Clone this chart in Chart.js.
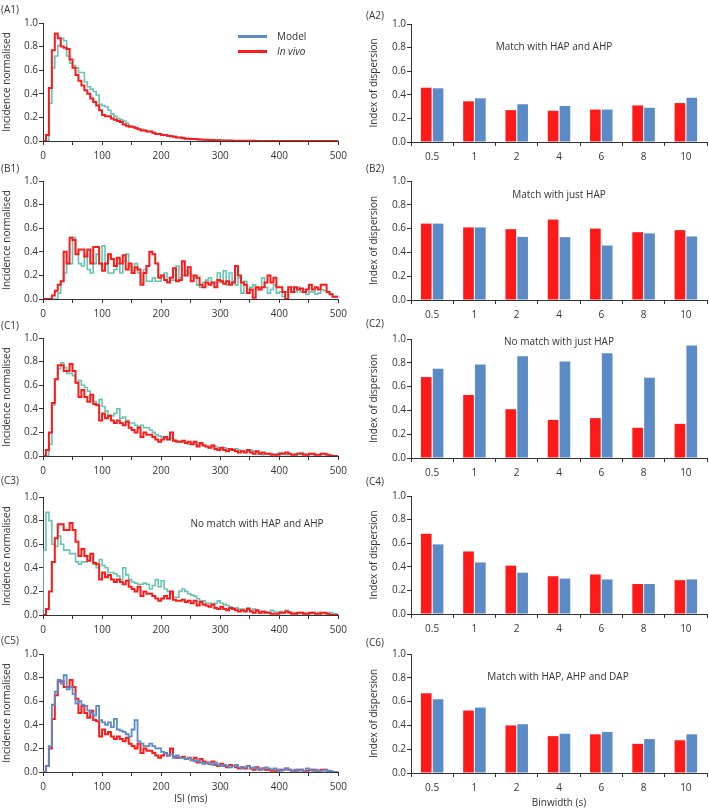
<!DOCTYPE html>
<html><head><meta charset="utf-8">
<script src="https://cdn.jsdelivr.net/npm/chart.js@4.4.1/dist/chart.umd.min.js"></script>
<style>
body{margin:0;background:#fff;width:709px;height:810px;position:relative;overflow:hidden;font-family:'Open Sans',sans-serif;color:#333}
canvas{position:absolute}
.lbl{position:absolute;font-size:10px;line-height:12px;white-space:nowrap;color:#333}
.ttl{position:absolute;font-size:10px;line-height:12px;white-space:nowrap;transform:translate(-50%,-50%);color:#333}
.leg{position:absolute;height:3px;width:29px}
</style></head><body>
<script>
// ---------------- DATA ----------------
const BIN_MS = 5;                       // ISI histogram bin width (ms)
const isiTickLabels = [0, 100, 200, 300, 400, 500];
const binwidths = ['0.5', '1', '2', '4', '6', '8', '10'];

// (A1)
const a1InVivo = [
 0,0,0.05,0.45,0.77,0.91,0.87,0.80,0.79,0.78,
 0.69,0.62,0.56,0.51,0.47,0.43,0.40,0.36,0.33,0.30,
 0.26,0.22,0.21,0.21,0.19,0.18,0.17,0.16,0.14,0.13,
 0.12,0.12,0.11,0.10,0.09,0.09,0.08,0.08,0.07,0.06,
 0.06,0.05,0.05,0.045,0.04,0.035,0.03,0.03,0.025,0.02,
 0.02,0.018,0.016,0.014,0.012,0.01,0.01,0.009,0.008,0.007,
 0.006,0.005,0.005,0.004,0.004,0.003,0.003,0.003,0.002,0.002,
 0.002,0.002,0.002,0.001,0.001,0.001,0.001,0.001,0.001,0,
 0,0,0,0,0,0,0,0,0,0,
 0,0,0,0,0,0,0,0,0,0];
const a1Model = [
 0,0,0,0.32,0.62,0.72,0.81,0.87,0.85,0.72,
 0.66,0.64,0.62,0.58,0.58,0.50,0.46,0.44,0.42,0.39,
 0.31,0.30,0.29,0.26,0.23,0.21,0.19,0.18,0.17,0.15,
 0.13,0.12,0.11,0.10,0.10,0.09,0.08,0.08,0.07,0.06,
 0.06,0.05,0.05,0.04,0.04,0.04,0.03,0.03,0.02,0.02,
 0.02,0.015,0.015,0.01,0.01,0.01,0.008,0.007,0.006,0.005,
 0.005,0.004,0.004,0.003,0.003,0.002,0.002,0.002,0.001,0.001,
 0.001,0.001,0.001,0,0,0,0,0,0,0,
 0,0,0,0,0,0,0,0,0,0,
 0,0,0,0,0,0,0,0,0,0];

// (B1)
const b1InVivo = [
 0,0,0,0,0.03,0.07,0.12,0.15,0.40,0.30,
 0.52,0.50,0.38,0.42,0.42,0.36,0.42,0.30,0.44,0.44,
 0.30,0.24,0.30,0.38,0.34,0.28,0.35,0.30,0.37,0.25,
 0.30,0.22,0.27,0.25,0.12,0.22,0.28,0.40,0.38,0.30,
 0.18,0.20,0.16,0.14,0.18,0.26,0.15,0.16,0.32,0.20,
 0.27,0.15,0.20,0.18,0.12,0.10,0.14,0.12,0.14,0.10,
 0.16,0.15,0.13,0.15,0.12,0.14,0.28,0.20,0.14,0.12,
 0.05,0.08,0.01,0.10,0.08,0.10,0.14,0.20,0.14,0.18,
 0.10,0.10,0.06,0.00,0.10,0.06,0.10,0.08,0.09,0.06,
 0.08,0.12,0.08,0.10,0.08,0.12,0.12,0.06,0.04,0.02];
const b1Model = [
 0,0,0,0,0,0,0.05,0.15,0.22,0.30,
 0.30,0.52,0.38,0.30,0.28,0.38,0.25,0.22,0.30,0.38,
 0.30,0.45,0.30,0.22,0.22,0.25,0.30,0.22,0.32,0.38,
 0.28,0.24,0.30,0.22,0.14,0.25,0.15,0.15,0.18,0.15,
 0.15,0.20,0.22,0.18,0.16,0.16,0.28,0.18,0.20,0.24,
 0.22,0.20,0.18,0.12,0.10,0.14,0.16,0.18,0.14,0.14,
 0.22,0.14,0.24,0.12,0.22,0.15,0.12,0.18,0.05,0.15,
 0.08,0.10,0.12,0.08,0.10,0.18,0.10,0.05,0.08,0.12,
 0.05,0.06,0.02,0.06,0.08,0.10,0.06,0.10,0.06,0.08,
 0.04,0.06,0.06,0.04,0.05,0.08,0.07,0.06,0.04,0.02];

// (C1), (C3), (C5): same in vivo recording
const cInVivo = [
 0,0,0.05,0.20,0.45,0.65,0.77,0.77,0.72,0.72,
 0.78,0.72,0.62,0.50,0.56,0.50,0.46,0.52,0.44,0.43,
 0.30,0.36,0.32,0.34,0.30,0.28,0.30,0.28,0.26,0.29,
 0.24,0.22,0.20,0.24,0.16,0.20,0.18,0.18,0.16,0.14,
 0.12,0.14,0.16,0.14,0.20,0.13,0.12,0.12,0.13,0.11,
 0.12,0.10,0.12,0.08,0.11,0.09,0.08,0.07,0.09,0.06,
 0.05,0.07,0.05,0.04,0.06,0.05,0.04,0.03,0.04,0.03,
 0.05,0.03,0.02,0.04,0.02,0.03,0.02,0.02,0.01,0.01,
 0.01,0.02,0.02,0.03,0.02,0.01,0.01,0.02,0.02,0.01,
 0.01,0.02,0.02,0.01,0.01,0.02,0.02,0.01,0,0];
const c1Model = [
 0,0,0,0.10,0.43,0.65,0.74,0.79,0.75,0.70,
 0.70,0.68,0.62,0.64,0.60,0.58,0.55,0.50,0.46,0.44,
 0.48,0.42,0.38,0.35,0.34,0.36,0.40,0.32,0.33,0.30,
 0.28,0.28,0.26,0.25,0.26,0.24,0.24,0.22,0.20,0.18,
 0.17,0.16,0.15,0.14,0.15,0.14,0.13,0.12,0.12,0.11,
 0.10,0.11,0.10,0.09,0.10,0.09,0.08,0.07,0.09,0.08,
 0.07,0.06,0.07,0.06,0.05,0.05,0.06,0.05,0.04,0.04,
 0.04,0.05,0.04,0.03,0.02,0.01,0.02,0.02,0.02,0.01,
 0.02,0.03,0.02,0.01,0.02,0.01,0.02,0.02,0.03,0.02,
 0.01,0.02,0.01,0.01,0.01,0.02,0.01,0.01,0.01,0];
const c3Model = [
 0,0.55,0.87,0.80,0.60,0.58,0.67,0.60,0.55,0.55,
 0.52,0.52,0.45,0.43,0.45,0.45,0.50,0.48,0.43,0.40,
 0.47,0.42,0.40,0.36,0.36,0.35,0.33,0.30,0.40,0.34,
 0.30,0.28,0.27,0.26,0.26,0.27,0.26,0.22,0.25,0.30,
 0.24,0.29,0.22,0.20,0.18,0.15,0.15,0.20,0.22,0.20,
 0.18,0.17,0.16,0.14,0.12,0.12,0.10,0.10,0.09,0.10,
 0.12,0.10,0.09,0.08,0.07,0.06,0.06,0.05,0.05,0.04,
 0.06,0.04,0.05,0.03,0.02,0.02,0.03,0.02,0.04,0.03,
 0.02,0.03,0.02,0.04,0.03,0.02,0.02,0.01,0.02,0.02,
 0.01,0.01,0.02,0.01,0.02,0.01,0.01,0.01,0.02,0.01];
const c5Model = [
 0,0,0.05,0.22,0.57,0.68,0.78,0.75,0.82,0.70,
 0.72,0.66,0.58,0.60,0.57,0.56,0.52,0.50,0.48,0.56,
 0.44,0.42,0.40,0.42,0.38,0.45,0.36,0.35,0.34,0.32,
 0.30,0.36,0.44,0.26,0.24,0.22,0.22,0.24,0.22,0.20,
 0.20,0.17,0.16,0.14,0.15,0.12,0.14,0.12,0.12,0.11,
 0.12,0.10,0.09,0.10,0.08,0.07,0.08,0.07,0.06,0.08,
 0.06,0.05,0.06,0.05,0.04,0.05,0.06,0.04,0.03,0.04,
 0.05,0.03,0.04,0.03,0.02,0.03,0.04,0.03,0.02,0.03,
 0.02,0.01,0.02,0.03,0.02,0.01,0.02,0.01,0.02,0.01,
 0.03,0.02,0.01,0.02,0.01,0.01,0.02,0.01,0.01,0];

// Index of dispersion (right column)
const a2InVivo = [0.46, 0.345, 0.27, 0.265, 0.275, 0.31, 0.33];
const a2Model  = [0.455, 0.37, 0.32, 0.305, 0.275, 0.29, 0.375];
const b2InVivo = [0.642, 0.61, 0.595, 0.676, 0.60, 0.57, 0.587];
const b2Model  = [0.642, 0.61, 0.53, 0.528, 0.458, 0.56, 0.534];
const c2InVivo = [0.68, 0.53, 0.41, 0.32, 0.335, 0.254, 0.287];
const c2Model  = [0.75, 0.785, 0.855, 0.81, 0.88, 0.675, 0.945];
const c4InVivo = [0.68, 0.53, 0.41, 0.32, 0.335, 0.254, 0.287];
const c4Model  = [0.59, 0.437, 0.35, 0.30, 0.293, 0.254, 0.293];
const c6InVivo = [0.67, 0.525, 0.40, 0.31, 0.325, 0.245, 0.275];
const c6Model  = [0.62, 0.55, 0.41, 0.33, 0.345, 0.285, 0.325];

// ---------------- STYLE ----------------
const RED = '#ff1a1a', TEAL = '#66c4b3', BLUE = '#5b8bc6';
const FONT = {family: "'Open Sans', sans-serif", size: 10};
const INK = '#333';
Chart.defaults.font.family = FONT.family;
Chart.defaults.font.size = FONT.size;
Chart.defaults.color = INK;

function toSteps(vals) {
  const pts = vals.map((v, i) => ({x: i * BIN_MS, y: v}));
  pts.push({x: vals.length * BIN_MS, y: vals[vals.length - 1]});
  return pts;
}
function addCanvas(b) {
  const cv = document.createElement('canvas');
  cv.width = b.w; cv.height = b.h;
  cv.style.left = b.x + 'px'; cv.style.top = b.y + 'px';
  cv.style.width = b.w + 'px'; cv.style.height = b.h + 'px';
  document.body.appendChild(cv);
  return cv;
}
const yAxis = (b, title) => ({
  min: 0, max: 1,
  ticks: {stepSize: 0.2, padding: 1, color: INK, font: FONT, callback: v => Number(v).toFixed(1)},
  grid: {drawOnChartArea: false, tickLength: 4, color: INK, tickColor: INK},
  border: {color: INK, width: 1},
  title: {display: true, text: title, color: INK, font: FONT, padding: {top: b.tp, bottom: 0}},
  afterFit: s => { s.width = b.yw; }
});

function histChart(b, sets, xTitle) {
  const cv = addCanvas(b);
  new Chart(cv, {
    type: 'line',
    data: {datasets: sets.map(s => ({
      data: toSteps(s.values), borderColor: s.color, borderWidth: s.width,
      stepped: 'after', pointRadius: 0, fill: false
    }))},
    options: {
      responsive: false, animation: false, devicePixelRatio: 1,
      layout: {padding: {top: 8, right: b.pr, left: 0, bottom: 0}},
      plugins: {legend: {display: false}, tooltip: {enabled: false}},
      scales: {
        x: {
          type: 'linear', min: 0, max: 500,
          ticks: {stepSize: 50, autoSkip: false, maxRotation: 0, padding: 5, color: INK, font: FONT,
                  callback: v => isiTickLabels.includes(v) ? String(v) : ''},
          grid: {drawOnChartArea: false, tickLength: 4, color: INK, tickColor: INK},
          border: {color: INK, width: 1},
          title: xTitle ? {display: true, text: xTitle, color: INK, font: FONT, padding: {top: 0, bottom: b.bp}} : {display: false},
          afterFit: s => { s.height = b.hx; }
        },
        y: yAxis(b, 'Incidence normalised')
      }
    }
  });
}

function barChart(b, red, blue, xTitle) {
  const cv = addCanvas(b);
  const common = {categoryPercentage: 0.56, barPercentage: 0.9, borderWidth: 0};
  new Chart(cv, {
    type: 'bar',
    data: {labels: binwidths, datasets: [
      Object.assign({data: red, backgroundColor: RED}, common),
      Object.assign({data: blue, backgroundColor: BLUE}, common)
    ]},
    options: {
      responsive: false, animation: false, devicePixelRatio: 1,
      layout: {padding: {top: 8, right: b.pr, left: 0, bottom: 0}},
      plugins: {legend: {display: false}, tooltip: {enabled: false}},
      scales: {
        x: {
          offset: true,
          ticks: {padding: 5, maxRotation: 0, color: INK, font: FONT},
          grid: {offset: true, drawOnChartArea: false, tickLength: 4, color: INK, tickColor: INK},
          border: {color: INK, width: 1},
          title: xTitle ? {display: true, text: xTitle, color: INK, font: FONT, padding: {top: 0, bottom: b.bp}} : {display: false},
          afterFit: s => { s.height = b.hx; }
        },
        y: yAxis(b, 'Index of dispersion')
      }
    }
  });
}

// ---------------- LAYOUT ----------------
const L = {x: 0, w: 352, yw: 43, pr: 12, tp: 1};
const R = {x: 362, w: 347, yw: 49, pr: 2, tp: 6};
const box = (col, y, h, hx, bp) => Object.assign({}, col, {y, h, hx, bp: bp || 0});

histChart(box(L, 15, 148, 22), [{values: a1Model, color: TEAL, width: 1.6}, {values: a1InVivo, color: RED, width: 2}].reverse());
histChart(box(L, 173, 148, 22), [{values: b1Model, color: TEAL, width: 1.6}, {values: b1InVivo, color: RED, width: 2}].reverse());
histChart(box(L, 330, 148, 22), [{values: c1Model, color: TEAL, width: 1.6}, {values: cInVivo, color: RED, width: 2}].reverse());
histChart(box(L, 489, 148, 22), [{values: c3Model, color: TEAL, width: 1.6}, {values: cInVivo, color: RED, width: 2}].reverse());
histChart(box(L, 646, 164, 38, 5), [{values: c5Model, color: BLUE, width: 1.8}, {values: cInVivo, color: RED, width: 2}], 'ISI (ms)');

barChart(box(R, 16, 148, 22), a2InVivo, a2Model);
barChart(box(R, 173, 149, 22), b2InVivo, b2Model);
barChart(box(R, 331, 149, 22), c2InVivo, c2Model);
barChart(box(R, 488, 148, 22), c4InVivo, c4Model);
barChart(box(R, 646, 164, 37, 1), c6InVivo, c6Model, 'Binwidth (s)');

// ---------------- TEXT ----------------
function text(cls, x, y, s, extra) {
  const d = document.createElement('div');
  d.className = cls; d.style.left = x + 'px'; d.style.top = y + 'px';
  d.innerHTML = s; if (extra) d.style.cssText += extra;
  document.body.appendChild(d);
}
[['(A1)', 1, 3], ['(B1)', 1, 162], ['(C1)', 1, 319], ['(C3)', 1, 474], ['(C5)', 1, 634],
 ['(A2)', 366, 9], ['(B2)', 366, 162], ['(C2)', 366, 317], ['(C4)', 366, 475], ['(C6)', 366, 636]]
  .forEach(p => text('lbl', p[1], p[2], p[0]));
text('ttl', 554, 46, 'Match with HAP and AHP');
text('ttl', 559, 194, 'Match with just HAP');
text('ttl', 559, 341, 'No match with just HAP');
text('ttl', 257, 523, 'No match with HAP and AHP');
text('ttl', 558, 676, 'Match with HAP, AHP and DAP');
// legend
text('leg', 238, 34.5, '', 'background:' + BLUE);
text('leg', 238, 49.5, '', 'background:' + RED);
text('lbl', 277, 30, 'Model');
text('lbl', 277, 45, '<i>In vivo</i>');
</script>
</body></html>
